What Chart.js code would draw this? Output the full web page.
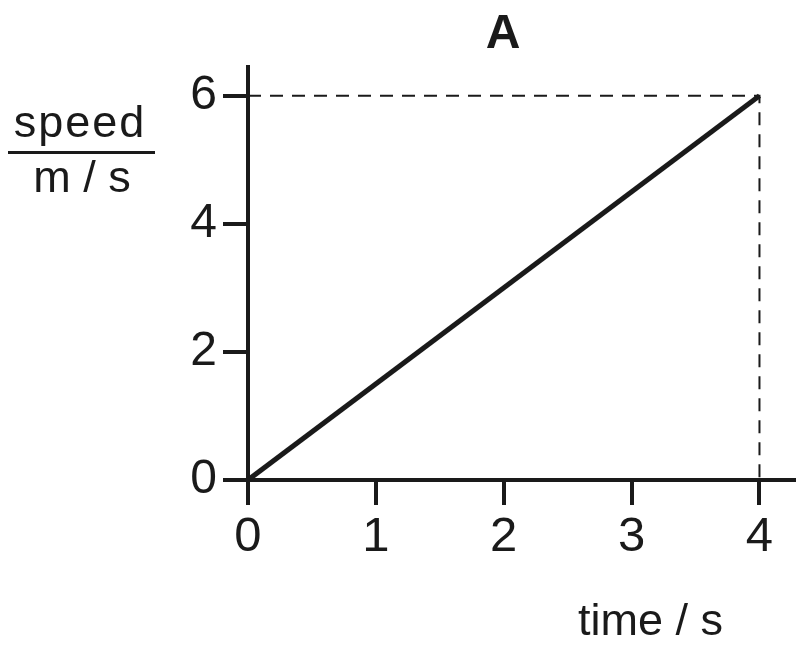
<!DOCTYPE html>
<html lang="en">

<head>
    <meta charset="UTF-8">
    <title>Speed against time - A</title>
    <script src="https://cdn.jsdelivr.net/npm/chart.js"></script>
    <style>
        html, body { margin: 0; padding: 0; background: #fff; }
        #speedChart { display: block; }
    </style>
</head>

<body>
    <canvas id="speedChart" width="804" height="658"></canvas>

    <script>
        // Values
        var timeValues = [0, 4];          // s
        var speedValues = [0, 6];         // m/s
        var xTickValues = [0, 1, 2, 3, 4];
        var yTickValues = [0, 2, 4, 6];
        var xMax = 4.27;                  // axis runs a little past 4
        var yMax = 6.45;                  // axis runs a little past 6

        var chartTitle = 'A';
        var yTitleTop = 'speed';
        var yTitleBottom = 'm / s';
        var xTitle = 'time / s';

        var ink = '#1a1a1a';
        var fontFamily = "'Liberation Sans', Arial, Helvetica, sans-serif";

        var linePoints = timeValues.map(function(t, i) {
            return { x: t, y: speedValues[i] };
        });
        var last = linePoints[linePoints.length - 1];
        // dashed guide from the y axis to the end point and down to the x axis
        var guidePoints = [
            { x: 0, y: last.y },
            { x: last.x, y: last.y },
            { x: last.x, y: 0 }
        ];

        // labels that sit outside the axes
        var labelsPlugin = {
            id: 'labels',
            afterDraw: function(chart) {
                var ctx = chart.ctx;
                ctx.save();
                ctx.fillStyle = ink;
                ctx.textAlign = 'center';
                ctx.textBaseline = 'alphabetic';

                ctx.font = 'bold 48px ' + fontFamily;
                ctx.fillText(chartTitle, 503, 48);

                ctx.font = '45px ' + fontFamily;
                ctx.letterSpacing = '2px';
                ctx.fillText(yTitleTop, 80, 137);
                ctx.letterSpacing = '0px';
                ctx.fillText(yTitleBottom, 82, 192);
                ctx.fillRect(8, 151, 147, 3);

                ctx.textAlign = 'left';
                ctx.fillText(xTitle, 578, 635);
                ctx.restore();
            }
        };

        var ctx = document.getElementById('speedChart').getContext('2d');
        var chart = new Chart(ctx, {
            type: 'line',
            data: {
                datasets: [{
                    label: 'speed',
                    data: linePoints,
                    borderColor: ink,
                    borderWidth: 5,
                    pointRadius: 0,
                    fill: false,
                    order: 1
                }, {
                    label: 'guide',
                    data: guidePoints,
                    borderColor: ink,
                    borderWidth: 2,
                    borderDash: [13, 9],
                    pointRadius: 0,
                    fill: false,
                    order: 2
                }]
            },
            options: {
                responsive: false,
                animation: false,
                devicePixelRatio: 1,
                layout: {
                    padding: { top: 67, right: 10, left: 0, bottom: 0 }
                },
                plugins: {
                    legend: { display: false },
                    tooltip: { enabled: false }
                },
                scales: {
                    x: {
                        type: 'linear',
                        min: 0,
                        max: xMax,
                        afterBuildTicks: function(scale) {
                            scale.ticks = xTickValues.map(function(v) { return { value: v }; });
                        },
                        afterFit: function(scale) { scale.height = 178; },
                        border: { color: ink, width: 4 },
                        grid: {
                            drawOnChartArea: false,
                            drawTicks: true,
                            tickLength: 25,
                            color: ink,
                            lineWidth: 4
                        },
                        ticks: {
                            color: ink,
                            padding: 3,
                            maxRotation: 0,
                            autoSkip: false,
                            font: { family: fontFamily, size: 49 }
                        }
                    },
                    y: {
                        type: 'linear',
                        min: 0,
                        max: yMax,
                        afterBuildTicks: function(scale) {
                            scale.ticks = yTickValues.map(function(v) { return { value: v }; });
                        },
                        afterFit: function(scale) { scale.width = 248; },
                        border: { color: ink, width: 4 },
                        grid: {
                            drawOnChartArea: false,
                            drawTicks: true,
                            tickLength: 25,
                            color: ink,
                            lineWidth: 4
                        },
                        ticks: {
                            color: ink,
                            padding: 6,
                            autoSkip: false,
                            font: { family: fontFamily, size: 48 }
                        }
                    }
                }
            },
            plugins: [labelsPlugin]
        });
    </script>
</body>

</html>
